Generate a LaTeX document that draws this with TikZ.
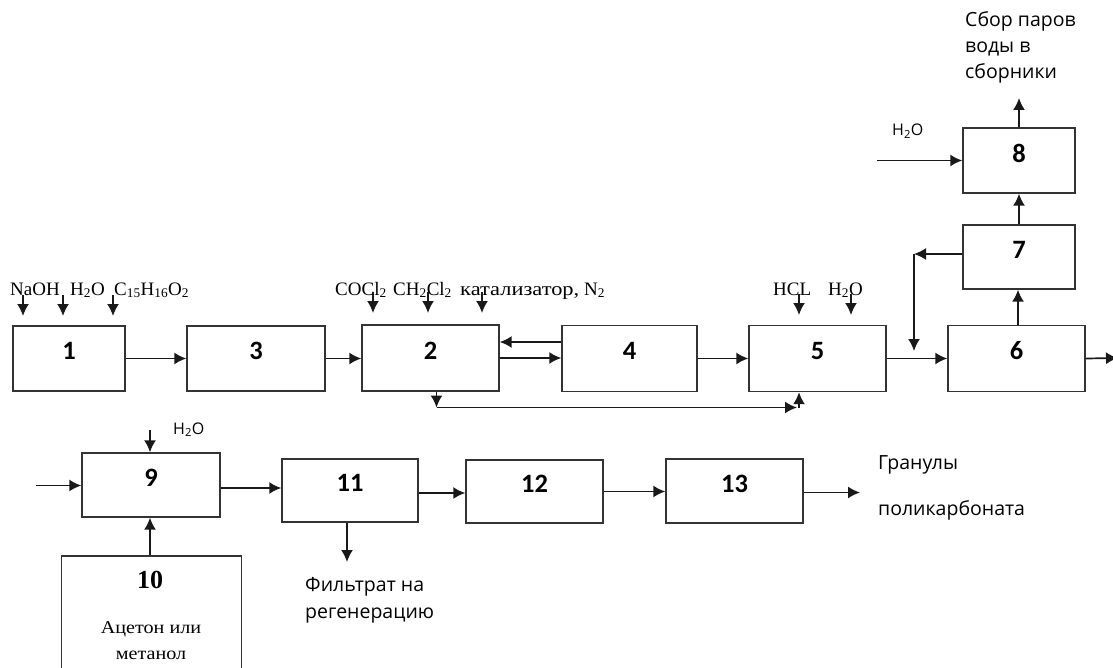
\documentclass[tikz,border=0pt]{standalone}
\usepackage{fontspec}
\setmainfont{Liberation Serif}
\newfontfamily\serifw[FakeStretch=1.18]{Liberation Serif}
\newfontfamily\serifa[FakeStretch=1.12]{Liberation Serif}
\newfontfamily\osans{Open Sans}
\newfontfamily\numf{Carlito}
\usetikzlibrary{arrows.meta,calc}
\begin{document}
\begin{tikzpicture}[x=1pt,y=-1pt,
  box/.style={draw=black!80, line width=1.4pt, inner sep=0pt},
  arr/.style={draw=black!90, line width=1.7pt, -{Latex[length=12pt,width=12pt]}},
  num/.style={font=\numf\bfseries\fontsize{26.5}{26.5}\selectfont, inner sep=0pt},
  chem/.style={font=\fontsize{19}{20}\selectfont, inner sep=0pt, anchor=base west},
  ssans/.style={font=\osans\fontsize{16}{16}\selectfont, inner sep=0pt, anchor=base west},
  lsans/.style={font=\osans\fontsize{19.5}{26}\selectfont, inner sep=0pt, anchor=base west},
]
\useasboundingbox (0,0) rectangle (1113,668);

% boxes
\node[box, minimum width=112pt, minimum height=65pt] (n1) at (69,358.5) {};
\node[box, minimum width=138pt, minimum height=65pt] (n3) at (256,358.5) {};
\node[box, minimum width=137pt, minimum height=66pt] (n2) at (430.5,358) {};
\node[box, minimum width=135pt, minimum height=66pt] (n4) at (629.5,358.5) {};
\node[box, minimum width=137pt, minimum height=66pt] (n5) at (817.5,358.5) {};
\node[box, minimum width=137pt, minimum height=66pt] (n6) at (1016.5,358.5) {};
\node[box, minimum width=112pt, minimum height=64pt] (n7) at (1019,257) {};
\node[box, minimum width=112pt, minimum height=65pt] (n8) at (1019,160.5) {};
\node[box, minimum width=138pt, minimum height=64pt] (n9) at (151,485) {};
\node[box, minimum width=180pt, minimum height=130pt] (n10) at (151.5,621) {};
\node[box, minimum width=136pt, minimum height=63pt] (n11) at (350,490.5) {};
\node[box, minimum width=137pt, minimum height=63pt] (n12) at (534.5,491.5) {};
\node[box, minimum width=137pt, minimum height=64pt] (n13) at (734.5,491) {};

% numbers
\node[num] at ([yshift=7.5pt]n1.center) {1};
\node[num] at ([yshift=7.5pt]n3.center) {3};
\node[num] at ([yshift=7.5pt]n2.center) {2};
\node[num] at ([yshift=7.5pt]n4.center) {4};
\node[num] at ([yshift=7.5pt]n5.center) {5};
\node[num] at ([yshift=7.5pt]n6.center) {6};
\node[num] at ([yshift=7.5pt]n7.center) {7};
\node[num] at ([yshift=7.5pt]n8.center) {8};
\node[num] at ([yshift=7.5pt]n9.center) {9};
\node[num] at ([yshift=7.5pt]n11.center) {11};
\node[num] at ([yshift=7.5pt]n12.center) {12};
\node[num] at ([yshift=7.5pt]n13.center) {13};
\node[font=\bfseries\fontsize{26}{26}\selectfont, inner sep=0pt] (t10) at (150,580) {10};
\node[font=\serifa\fontsize{18}{26}\selectfont, align=center, inner sep=0pt] (t10b) at (151,641) {Ацетон или\\метанол};

% input labels
\node[chem] (lNaOH) at (10,295) {NaOH};
\node[chem] (lH2Oa) at (70,295) {H\textsubscript{2}O};
\node[chem] (lC) at (114,295) {C\textsubscript{15}H\textsubscript{16}O\textsubscript{2}};
\node[chem] (lCOCl) at (335,295) {COCl\textsubscript{2}};
\node[chem] (lCH) at (393,295) {CH\textsubscript{2}Cl\textsubscript{2}};
\node[chem] (lkat) at (460,295) {{\serifw катализатор,} N\textsubscript{2}};
\node[chem] (lHCL) at (773,295) {HCL};
\node[chem] (lH2Ob) at (828,295) {H\textsubscript{2}O};
\node[ssans] (lH2Oc) at (892,136) {H\textsubscript{2}O};
\node[ssans] (lH2Od) at (173,434) {H\textsubscript{2}O};
\node[lsans] (lsbor1) at (965,27) {Сбор паров};
\node[lsans] (lsbor2) at (965,53) {воды в};
\node[lsans] (lsbor3) at (965,79) {сборники};
\node[lsans] (lfil1) at (305,591) {Фильтрат на};
\node[lsans] (lfil2) at (305,618) {регенерацию};
\node[lsans] (lgr1) at (878,469) {Гранулы};
\node[lsans] (lgr2) at (878,515) {поликарбоната};

% input arrow starts
\coordinate (a1) at (23,295);
\coordinate (a2) at (63,295);
\coordinate (a3) at (113,295);
\coordinate (a4) at (373,292);
\coordinate (a5) at (428,292);
\coordinate (a6) at (482,292);
\coordinate (a7) at (799,294);
\coordinate (a8) at (851,294);
\foreach \c in {a1,a2,a3,a4,a5,a6,a7,a8}
  \draw[arr] (\c) -- ($(\c)+(0,21)$);

% main line
\draw[arr] (n1.east) -- (n1.east -| n3.west);
\draw[arr] (n3.east) -- (n3.east -| n2.west);
\draw[arr] (n2.east) -- (n2.east -| n4.west);
\draw[arr] ([yshift=16.5pt]n4.west) -- ([yshift=16.5pt]n4.west -| n2.east);
\draw[arr] (n4.east) -- (n4.east -| n5.west);
\draw[arr] (n5.east) -- (n5.east -| n6.west);
\coordinate (o6) at (1118,358);
\draw[arr] (n6.east) -- (o6);

% bypass 2 -> 5
\coordinate (b1) at (436.5,407.5);
\coordinate (b2) at (797,407.5);
\coordinate (b3) at (799,407.5);
\draw[arr] (b1 |- n2.south) -- (b1);
\draw[arr] (b1) -- (b2);
\draw[arr] (b3) -- (b3 |- n5.south);

% 6 -> 7 -> 8 -> up
\draw[arr] (n6.north -| 1018,0) -- (n7.south -| 1018,0);
\draw[arr] (n7.north -| 1019,0) -- (n8.south -| 1019,0);
\coordinate (top8) at (1019,98);
\draw[arr] (n8.north) -- (top8);
\coordinate (in8) at (877,160.5);
\draw[arr] (in8) -- (n8.west);

% 7 -> recycle
\coordinate (c7) at (914,254);
\coordinate (d7) at (914,351);
\draw[arr] (n7.west |- c7) -- (c7);
\draw[arr] (c7) -- (d7);

% lower line
\coordinate (in9) at (36,485.5);
\draw[arr] (in9) -- (in9 -| n9.west);
\coordinate (w9) at (150,430);
\draw[arr] (w9) -- (w9 |- n9.north);
\draw[arr] (n10.north -| w9) -- (n9.south -| w9);
\draw[arr] ([yshift=-3pt]n9.east) -- ([yshift=-3pt]n9.east -| n11.west);
\draw[arr] ([yshift=-2.5pt]n11.east) -- ([yshift=-2.5pt]n11.east -| n12.west);
\draw[arr] (n12.east) -- (n12.east -| n13.west);
\coordinate (o13) at (860,492.5);
\draw[arr] (n13.east |- o13) -- (o13);
\coordinate (f11) at (347,562);
\draw[arr] (f11 |- n11.south) -- (f11);
\end{tikzpicture}
\end{document}
